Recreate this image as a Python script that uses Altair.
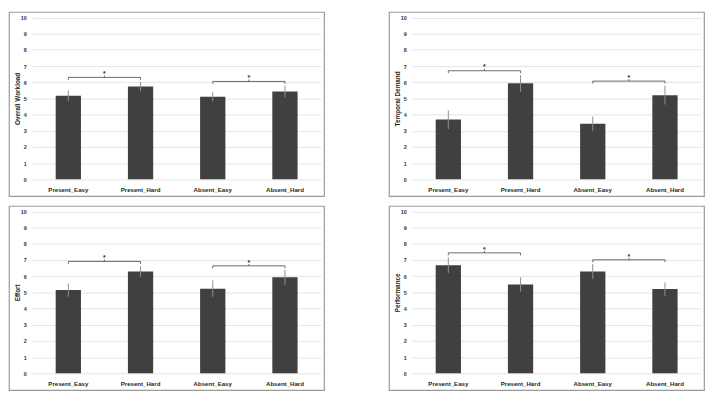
import altair as alt
import pandas as pd

# ---- data ----
categories = ["Present_Easy", "Present_Hard", "Absent_Easy", "Absent_Hard"]
panel_titles = ["Overall Workload", "Temporal Demand", "Effort", "Performance"]

workload_mean = [5.17, 5.74, 5.10, 5.43]
workload_err = [0.32, 0.29, 0.29, 0.35]
temporal_mean = [3.69, 5.93, 3.43, 5.20]
temporal_err = [0.58, 0.51, 0.45, 0.58]
effort_mean = [5.14, 6.29, 5.23, 5.93]
effort_err = [0.41, 0.33, 0.51, 0.46]
performance_mean = [6.68, 5.49, 6.29, 5.20]
performance_err = [0.48, 0.44, 0.46, 0.42]

bracket_left = ["Present_Easy", "Absent_Easy"]
bracket_right = ["Present_Hard", "Absent_Hard"]
workload_brackets = [6.30, 6.05]
temporal_brackets = [6.71, 6.07]
effort_brackets = [6.91, 6.64]
performance_brackets = [7.44, 7.01]

y_ticks = list(range(0, 11))

series = {
    "Overall Workload": (workload_mean, workload_err, workload_brackets),
    "Temporal Demand": (temporal_mean, temporal_err, temporal_brackets),
    "Effort": (effort_mean, effort_err, effort_brackets),
    "Performance": (performance_mean, performance_err, performance_brackets),
}

# ---- layout / style ----
W, H = 320, 187
X_RANGE = [23.6, 317]
Y_BOTTOM, Y_TOP = 170, 5.6
PAD_INNER = 0.65
PAD_OUTER = PAD_INNER / 2
STEP = (X_RANGE[1] - X_RANGE[0]) / len(categories)
BAND = STEP * (1 - PAD_INNER)
HALF_STEP = STEP / 2  # offset from a bar centre to the middle of a bracket
BAR_COLOR = "#404040"
FONT = "Arial, 'Liberation Sans', 'DejaVu Sans', sans-serif"


def panel(title):
    mean, err, levels = series[title]
    df = pd.DataFrame({"cond": categories, "mean": mean, "err": err})
    df["lo"] = df["mean"] - df["err"]
    df["hi"] = df["mean"] + df["err"]
    br = pd.DataFrame({"c1": bracket_left, "c2": bracket_right, "level": levels})
    br["end"] = br["level"] - 0.15
    br["up"] = br["level"] + 0.12

    xs = alt.Scale(domain=categories, range=X_RANGE,
                   paddingInner=PAD_INNER, paddingOuter=PAD_OUTER)
    ys = alt.Scale(domain=[0, 10], range=[Y_BOTTOM, Y_TOP], nice=False, zero=True)

    x_axis = alt.Axis(title=None, labelAngle=0, ticks=False, domain=False,
                      offset=-(H - Y_BOTTOM), labelPadding=7.5, labelFontSize=6.2,
                      labelFont=FONT, labelFontWeight="bold", labelColor="#262626",
                      labelBaseline="top", grid=False)
    y_axis = alt.Axis(title=title, values=y_ticks, ticks=False, domain=False,
                      offset=-X_RANGE[0], labelPadding=6, labelFontSize=5.5,
                      labelFont=FONT, labelFontWeight="bold", labelColor="#333333",
                      grid=True, gridColor="#e4e4e4", gridWidth=1,
                      titleFont=FONT, titleFontSize=6.5, titleFontWeight="bold",
                      titleColor="#262626", titleX=-14.7, titleBaseline="middle")

    def X(field):
        return alt.X(field, scale=xs, sort=categories, axis=x_axis)

    def Y(field):
        return alt.Y(field, scale=ys, axis=y_axis)

    bars = alt.Chart(df).mark_bar(color=BAR_COLOR).encode(
        x=X("cond:N"), y=Y("mean:Q"),
    )
    errs = alt.Chart(df).mark_rule(color="#8f8f8f", strokeWidth=1).encode(
        x=X("cond:N"), y=Y("lo:Q"), y2="hi:Q",
    )
    bcol = "#5a5a5a"
    hline = alt.Chart(br).mark_rule(color=bcol, strokeWidth=0.9).encode(
        x=X("c1:N"), x2="c2:N", y=Y("level:Q"),
    )
    lend = alt.Chart(br).mark_rule(color=bcol, strokeWidth=0.9).encode(
        x=X("c1:N"), y=Y("level:Q"), y2="end:Q",
    )
    rend = alt.Chart(br).mark_rule(color=bcol, strokeWidth=0.9).encode(
        x=X("c2:N"), y=Y("level:Q"), y2="end:Q",
    )
    mid = alt.Chart(br).mark_rule(color=bcol, strokeWidth=0.9).encode(
        x=X("c1:N"),
        xOffset=alt.value(BAND / 2 + HALF_STEP),
        y=Y("level:Q"), y2="up:Q",
    )
    star = alt.Chart(br).mark_text(text="*", fontSize=7, font=FONT, fontWeight="bold",
                                   color="#333333", baseline="alphabetic", dy=-1.3,
                                   dx=HALF_STEP).encode(
        x=X("c1:N"), y=Y("level:Q"),
    )
    return alt.layer(bars, errs, hline, lend, rend, mid, star).properties(width=W, height=H)


top = alt.hconcat(panel("Overall Workload"), panel("Temporal Demand"), spacing=64)
bottom = alt.hconcat(panel("Effort"), panel("Performance"), spacing=64)
chart = alt.vconcat(top, bottom, spacing=8).properties(
    padding=0, background="white"
).configure_view(stroke="#9a9a9a", strokeWidth=1.2, fill="white")

chart.save("out.html", embed_options={"renderer": "svg", "actions": False})
